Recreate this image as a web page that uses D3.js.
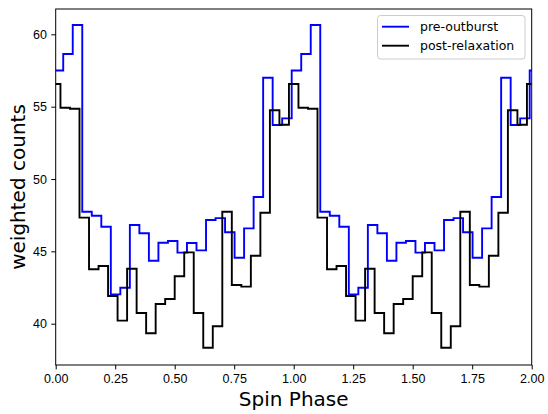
<!DOCTYPE html>
<html>
<head>
<meta charset="utf-8">
<script src="https://cdn.jsdelivr.net/npm/d3@7"></script>
<style>
  body { margin: 0; background: #fff; }
  svg { display: block; font-family: "DejaVu Sans", sans-serif; }
  .axis text { font-size: 12.5px; fill: #000; }
  .axis line { stroke: #000; stroke-width: 1; }
</style>
</head>
<body>
<div id="chart"></div>
<script>
//Data - one spin cycle of 25 phase bins, the chart shows it twice (phase 0-2)
const preOutburst = [57.50, 58.64, 60.64, 47.74, 47.46, 46.70, 42.03, 42.49, 46.82, 46.25,
                     44.35, 45.60, 45.72, 44.91, 45.58, 45.07, 47.17, 47.30, 46.32, 44.56,
                     46.59, 48.76, 57.00, 53.73, 54.19];
const postRelaxation = [56.57, 54.93, 54.86, 47.33, 43.76, 43.99, 41.91, 40.21, 43.80, 40.74,
                        39.34, 41.36, 41.71, 43.28, 44.93, 40.74, 38.34, 39.82, 47.74, 42.67,
                        42.56, 44.70, 47.67, 54.75, 53.75];
const binWidth = 0.04;      // 25 bins per cycle
const preOffset = 0.0116;   // pre-outburst bins sit slightly later in phase
const xTicks = [0, 0.25, 0.5, 0.75, 1.0, 1.25, 1.5, 1.75, 2.0];
const yTicks = [40, 45, 50, 55, 60];
const seriesNames = ["pre-outburst", "post-relaxation"];
const seriesColors = ["#0000ff", "#000000"];

//Layout
const width = 548, height = 414;
const padL = 55.7, padR = 531.7, padT = 9, padB = 365;

const svg = d3.select("#chart").append("svg").attr("width", width).attr("height", height);

const xScale = d3.scaleLinear().domain([0, 2]).range([padL, padR]);
const yScale = d3.scaleLinear().domain([37.146, 61.75]).range([padB, padT]);

//Build step points over two cycles (bin centres, drawn as steps-mid)
function cyclePoints(vals, offset) {
  let pts = [];
  for (let k = -1; k <= 2 * vals.length; k++) {
    let v = vals[((k % vals.length) + vals.length) % vals.length];
    pts.push([offset + k * binWidth, v]);
  }
  return pts;
}

svg.append("clipPath").attr("id", "plotClip")
  .append("rect").attr("x", padL).attr("y", padT).attr("width", padR - padL).attr("height", padB - padT);

const line = d3.line().x(d => xScale(d[0])).y(d => yScale(d[1])).curve(d3.curveStep);

const series = [cyclePoints(preOutburst, preOffset), cyclePoints(postRelaxation, 0)];
svg.append("g").attr("clip-path", "url(#plotClip)")
  .selectAll("path").data(series).enter().append("path")
  .attr("d", line)
  .attr("fill", "none")
  .attr("stroke", (d, i) => seriesColors[i])
  .attr("stroke-width", 1.9)
  .attr("stroke-linejoin", "miter");

//Axes
const xAxis = d3.axisBottom(xScale).tickValues(xTicks).tickFormat(d3.format(".2f")).tickSize(4.4).tickPadding(4.4);
const yAxis = d3.axisLeft(yScale).tickValues(yTicks).tickFormat(d3.format("d")).tickSize(4.4).tickPadding(4.4);
svg.append("g").attr("class", "axis").attr("transform", "translate(0," + padB + ")").call(xAxis)
  .call(g => g.select(".domain").remove());
svg.append("g").attr("class", "axis").attr("transform", "translate(" + padL + ",0)").call(yAxis)
  .call(g => g.select(".domain").remove());

//Frame (all four spines)
svg.append("rect").attr("x", padL).attr("y", padT).attr("width", padR - padL).attr("height", padB - padT)
  .attr("fill", "none").attr("stroke", "#000").attr("stroke-width", 1);

//Axis labels
svg.append("text").text("Spin Phase")
  .attr("x", (padL + padR) / 2).attr("y", 406)
  .attr("text-anchor", "middle").attr("font-size", 20);
svg.append("text").text("weighted counts")
  .attr("transform", "rotate(-90)")
  .attr("x", -(padT + padB) / 2).attr("y", 25)
  .attr("text-anchor", "middle").attr("font-size", 20);

//Legend
const lg = svg.append("g");
lg.append("rect").attr("x", 377.5).attr("y", 15.5).attr("width", 147.5).attr("height", 43.5)
  .attr("rx", 3).attr("fill", "#fff").attr("fill-opacity", 0.8).attr("stroke", "#cccccc").attr("stroke-width", 1);
seriesNames.forEach(function(name, i) {
  let ly = 26.7 + i * 19;
  lg.append("line").attr("x1", 382).attr("x2", 409).attr("y1", ly).attr("y2", ly)
    .attr("stroke", seriesColors[i]).attr("stroke-width", 1.9);
  lg.append("text").text(name).attr("x", 420).attr("y", ly + 4.5).attr("font-size", 12.5);
});
</script>
</body>
</html>
